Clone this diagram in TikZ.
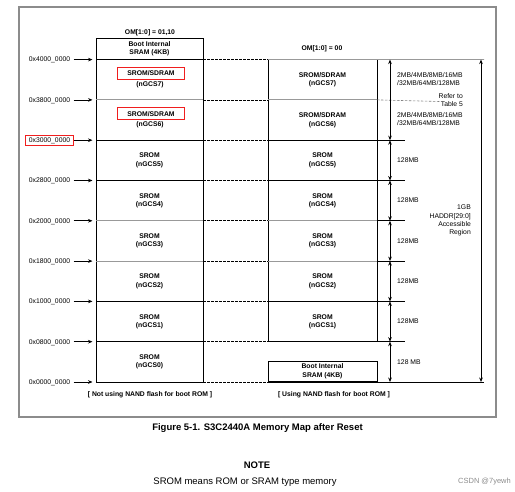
\documentclass[tikz,border=0pt]{standalone}
\usepackage{fontspec}
\setmainfont{Liberation Sans}
\usetikzlibrary{arrows.meta}
\definecolor{rbox}{RGB}{240,30,30}
\begin{document}
\begin{tikzpicture}[x=1pt,y=-1pt,
  lbl/.style={font=\fontsize{6.8}{8}\selectfont, inner xsep=3.4pt, inner ysep=2.5pt, text height=5pt, text depth=0.3pt},
  blk/.style={font=\fontsize{6.8}{8.4}\selectfont\bfseries, align=center, inner sep=0pt},
  sm/.style={font=\fontsize{6.8}{8}\selectfont, inner sep=0pt},
  tip/.style={-{Stealth[length=4.5pt,width=3.6pt]}},
  dtip/.style={{Stealth[length=4.5pt,width=3.6pt]}-{Stealth[length=4.5pt,width=3.6pt]}},
  ln/.style={line width=0.7pt},
  gln/.style={line width=0.8pt, black!40},
  tln/.style={line width=1.1pt},
  dln/.style={line width=0.6pt, dash pattern=on 2.5pt off 1.5pt},
  redbox/.style={draw=rbox, line width=1.3pt},
]
\useasboundingbox (0,0) rectangle (515,492);
% outer frame
\draw[line width=1.2pt, black!45] (19,7) rectangle (496,417);

% row coordinates
\foreach \k in {0,...,8}{
  \pgfmathsetmacro\yy{382-40.3*\k}
  \coordinate (L\k) at (96,\yy);
  \coordinate (LA\k) at (92.5,\yy);
  \coordinate (LR\k) at (203,\yy);
  \coordinate (RL\k) at (268,\yy);
  \coordinate (RR\k) at (377,\yy);
  \coordinate (A\k) at (390,\yy);
  \coordinate (E\k) at (405,\yy);
}
\coordinate (LT) at (96,38);
\coordinate (Ebig8) at (484,59.6);
\coordinate (Ebig0) at (484,382);
\coordinate (B8) at (481,59.6);
\coordinate (B0) at (481,382);
\coordinate (Dash7) at (440,101.5);

% address labels and arrows
\foreach \k/\t in {0/0000,1/0800,2/1000,3/1800,4/2000,5/2800,7/3800,8/4000}{
  \pgfmathsetmacro\yy{382-40.3*\k}
  \node[lbl] (a\k) at (49.5,\yy) {0x\t\_0000};
  \draw[ln,tip] (a\k.east) -- (LA\k);
}
\node[lbl, redbox] (a6) at (49.5,140.6) {0x3000\_0000};
\draw[ln,tip] (a6.east |- L6) -- (LA6);

% left column
\draw[ln] (LT) rectangle (L0 -| LR0);
\foreach \k in {0,1,5,6}{ \draw[ln] (L\k) -- (LR\k); }
\foreach \k in {3,4,7}{ \draw[gln] (L\k) -- (LR\k); }
\foreach \k in {2,8}{ \draw[tln] (L\k) -- (LR\k); }

% dashed links
\foreach \k in {0,...,8}{ \draw[dln] (LR\k) -- (RL\k); }

% right column
\draw[ln] (RL8) -- (RL1);
\draw[ln] (RR8) -- (RR1);
\draw[gln] (RL8) -- (Ebig8);
\draw[gln] (RL7) -- (RR7);
\draw[dln, black!50] (RR7) -- (Dash7);
\foreach \k in {1,2,5,6}{ \draw[ln] (RL\k) -- (E\k); }
\foreach \k in {3,4}{ \draw[gln] (RL\k) -- (RR\k); \draw[ln] (RR\k) -- (E\k); }
\draw[ln] (RL0) -- (Ebig0);
\node[blk, draw, line width=0.7pt, minimum width=109pt, minimum height=20.5pt, anchor=south] (rsram) at (322.5,382) {Boot Internal\\SRAM (4KB)};

% headers
\node[blk] (h1) at (150,33) {OM[1:0] = 01,10};
\node[blk] (h2) at (322,49) {OM[1:0] = 00};
\node[blk] (lsram) at (149.5,48.5) {Boot Internal\\SRAM (4KB)};

% left contents
\foreach \k in {0,...,5}{
  \pgfmathsetmacro\yy{382-40.3*\k-20.15}
  \node[blk] (ls\k) at (149.5,\yy) {SROM\\(nGCS\k)};
}
\foreach \k in {6,7}{
  \pgfmathsetmacro\yy{382-40.3*\k-20.15}
  \node[blk, redbox, inner xsep=9.6pt, inner ysep=3.6pt, text height=5pt, text depth=0pt] (lt\k) at (151,\yy-6.3) {SROM/SDRAM};
  \node[blk] (lb\k) at (150,\yy+4.5) {(nGCS\k)};
}

% right contents
\foreach \k in {1,...,5}{
  \pgfmathsetmacro\yy{382-40.3*\k-20.15}
  \node[blk] (rs\k) at (322.5,\yy) {SROM\\(nGCS\k)};
}
\foreach \k in {6,7}{
  \pgfmathsetmacro\yy{382-40.3*\k-20.15}
  \node[blk] (rd\k) at (322.5,\yy) {SROM/SDRAM\\(nGCS\k)};
}

% size arrows
\draw[ln,dtip] (A8) -- (A6);
\foreach \k/\j in {6/5,5/4,4/3,3/2,2/1,1/0}{ \draw[ln,dtip] (A\k) -- (A\j); }
\draw[ln,dtip] (B8) -- (B0);

% size texts
\node[sm, align=left, anchor=west] (t7) at (397,79.5) {2MB/4MB/8MB/16MB\\/32MB/64MB/128MB};
\node[sm, align=left, anchor=west] (t6) at (397,119.5) {2MB/4MB/8MB/16MB\\/32MB/64MB/128MB};
\node[sm, align=right, anchor=east] (ref) at (463,100.5) {Refer to\\Table 5};
\foreach \k in {1,...,5}{
  \pgfmathsetmacro\yy{382-40.3*\k-20.15}
  \node[sm, anchor=west] (m\k) at (397,\yy) {128MB};
}
\node[sm, anchor=west] (m0) at (397,362) {128 MB};
\node[sm, align=right, anchor=east, font=\fontsize{6.8}{8.3}\selectfont] (gb) at (471,220.5) {1GB\\HADDR[29:0]\\Accessible\\Region};

% footers
\node[blk] (f1) at (150,395) {[ Not using NAND flash for boot ROM ]};
\node[blk] (f2) at (334,395) {[ Using NAND flash for boot ROM ]};

% caption and note
\node[inner sep=0pt, font=\fontsize{9.5}{11}\selectfont\bfseries] (cap) at (257.5,428) {Figure 5-1. S3C2440A Memory Map after Reset};
\node[inner sep=0pt, font=\fontsize{9.5}{11}\selectfont\bfseries] (note) at (257,465) {NOTE};
\node[inner sep=0pt, font=\fontsize{9.5}{11}\selectfont] (nt) at (245,482) {SROM means ROM or SRAM type memory};
\node[inner sep=0pt, anchor=east, text=black!45, font=\fontsize{7.5}{9}\selectfont] (wm) at (511,482) {CSDN @7yewh};
\end{tikzpicture}
\end{document}
